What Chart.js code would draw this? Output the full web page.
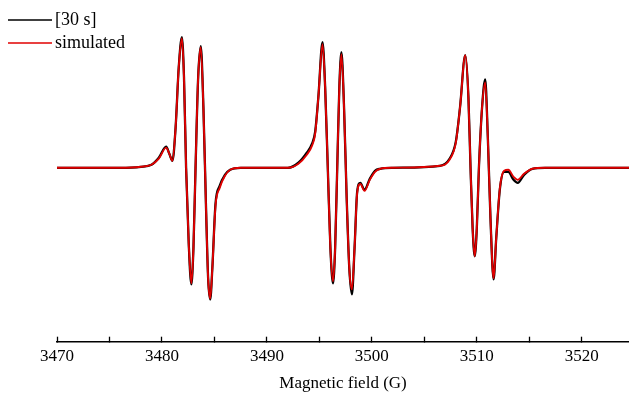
<!DOCTYPE html>
<html>
<head>
<meta charset="utf-8">
<script src="https://cdn.jsdelivr.net/npm/chart.js@4"></script>
<style>
  body { margin: 0; background: #fff; }
  #wrap { width: 629px; height: 395px; }
</style>
</head>
<body>
<div id="wrap"><canvas id="myChart"></canvas></div>
<script>
// Magnetic field positions (G)
const fields = [
  3470, 3476, 3478, 3479, 3479.7, 3480.4, 3480.7, 3481.0, 3481.3, 3481.6, 3481.9, 3482.1, 3482.3, 3482.55, 3482.8,
  3483.0, 3483.2, 3483.45, 3483.7, 3483.95, 3484.2, 3484.4, 3484.6, 3484.8, 3485.1, 3485.5, 3486.0, 3486.5, 3487.5,
  3492, 3493, 3493.8, 3494.3, 3494.6, 3494.9, 3495.3, 3495.55, 3495.8, 3496.05, 3496.3, 3496.5, 3496.7, 3496.9,
  3497.1, 3497.35, 3497.6, 3497.85, 3498.1, 3498.35, 3498.6, 3498.9, 3499.3, 3499.8, 3500.3, 3500.8, 3502,
  3506.5, 3507.4, 3508.0, 3508.4, 3508.9, 3509.2, 3509.4, 3509.6, 3509.8, 3510.0, 3510.2, 3510.5, 3510.8,
  3511.05, 3511.3, 3511.6, 3511.85, 3512.2, 3512.6, 3513.0, 3513.5, 3513.9, 3514.5, 3515.3, 3516.5, 3524.5
];

// measured spectrum "[30 s]"
const expSignal = [
  0, 0, 1, 3, 10, 21, 14, 7, 40, 100, 130, 90, 0, -75, -116,
  -80, 0, 90, 121, 60, -40, -110, -131, -100, -36, -18, -7, -2, 0,
  0, 5, 15, 24, 36, 70, 125, 80, 0, -80, -115, -80, 0, 80,
  115, 60, -30, -100, -126, -80, -24, -15, -22, -11, -3, -1, 0,
  2, 9, 26, 60, 112, 70, 0, -60, -88, -60, 0, 60, 88,
  30, -50, -111, -70, -21, -4, -4, -12, -15, -7, -1, 0, 0
];

// simulated spectrum
const simSignal = [
  0, 0, 1, 3, 9, 20, 14, 7, 40, 100, 129, 90, 0, -75, -115,
  -80, 0, 90, 120, 60, -40, -110, -130, -100, -38, -20, -8, -2, 0,
  0, 4, 13, 22, 34, 70, 123, 80, 0, -80, -113, -80, 0, 80,
  113, 60, -30, -100, -121, -80, -25, -16, -23, -12, -4, -1, 0,
  2, 8, 25, 60, 112, 70, 0, -60, -88, -60, 0, 60, 85,
  30, -50, -110, -70, -20, -3, -2, -9, -12, -6, -1, 0, 0
];

const seriesLabels = ["[30 s]", "simulated"];
const seriesColors = ["#000000", "#e00000"];

const toPoints = vals => fields.map((f, i) => ({ x: f, y: vals[i] }));

// legend drawn in the top-left corner, outside the plot box
const cornerLegend = {
  id: 'cornerLegend',
  afterDraw(chart) {
    const ctx = chart.ctx;
    ctx.save();
    ctx.font = '18px "Liberation Serif", serif';
    ctx.textBaseline = 'middle';
    seriesLabels.forEach((label, i) => {
      const y = 20 + i * 23;
      ctx.strokeStyle = seriesColors[i];
      ctx.lineWidth = 1.5;
      ctx.beginPath();
      ctx.moveTo(8, y);
      ctx.lineTo(52, y);
      ctx.stroke();
      ctx.fillStyle = '#000';
      ctx.fillText(label, 55, y);
    });
    ctx.restore();
  }
};

new Chart("myChart", {
  type: "line",
  data: {
    datasets: [
      {
        label: seriesLabels[0],
        data: toPoints(expSignal),
        borderColor: seriesColors[0],
        borderWidth: 2.3,
        order: 1
      },
      {
        label: seriesLabels[1],
        data: toPoints(simSignal),
        borderColor: seriesColors[1],
        borderWidth: 1.9,
        order: 0
      }
    ]
  },
  options: {
    responsive: true,
    maintainAspectRatio: false,
    animation: false,
    layout: { padding: { left: 57, right: 0, top: 20, bottom: 0 } },
    elements: {
      point: { radius: 0 },
      line: { cubicInterpolationMode: 'monotone' }
    },
    plugins: {
      legend: { display: false },
      tooltip: { enabled: false }
    },
    scales: {
      x: {
        type: 'linear',
        min: 3470,
        max: 3524.5,
        border: { color: '#000', width: 1.5 },
        grid: { drawOnChartArea: false, drawTicks: true, tickLength: -5, color: '#000', tickWidth: 1.3 },
        ticks: {
          stepSize: 5,
          autoSkip: false,
          includeBounds: false,
          maxRotation: 0,
          padding: 10,
          color: '#000',
          font: { family: '"Liberation Serif", serif', size: 17 },
          callback: v => (v % 10 === 0 ? String(v) : '')
        },
        title: {
          display: true,
          text: 'Magnetic field (G)',
          color: '#000',
          font: { family: '"Liberation Serif", serif', size: 17, lineHeight: 0.7 },
          padding: { top: 0, bottom: 6 }
        }
      },
      y: {
        display: false,
        min: -173,
        max: 147
      }
    }
  },
  plugins: [cornerLegend]
});
</script>
</body>
</html>
